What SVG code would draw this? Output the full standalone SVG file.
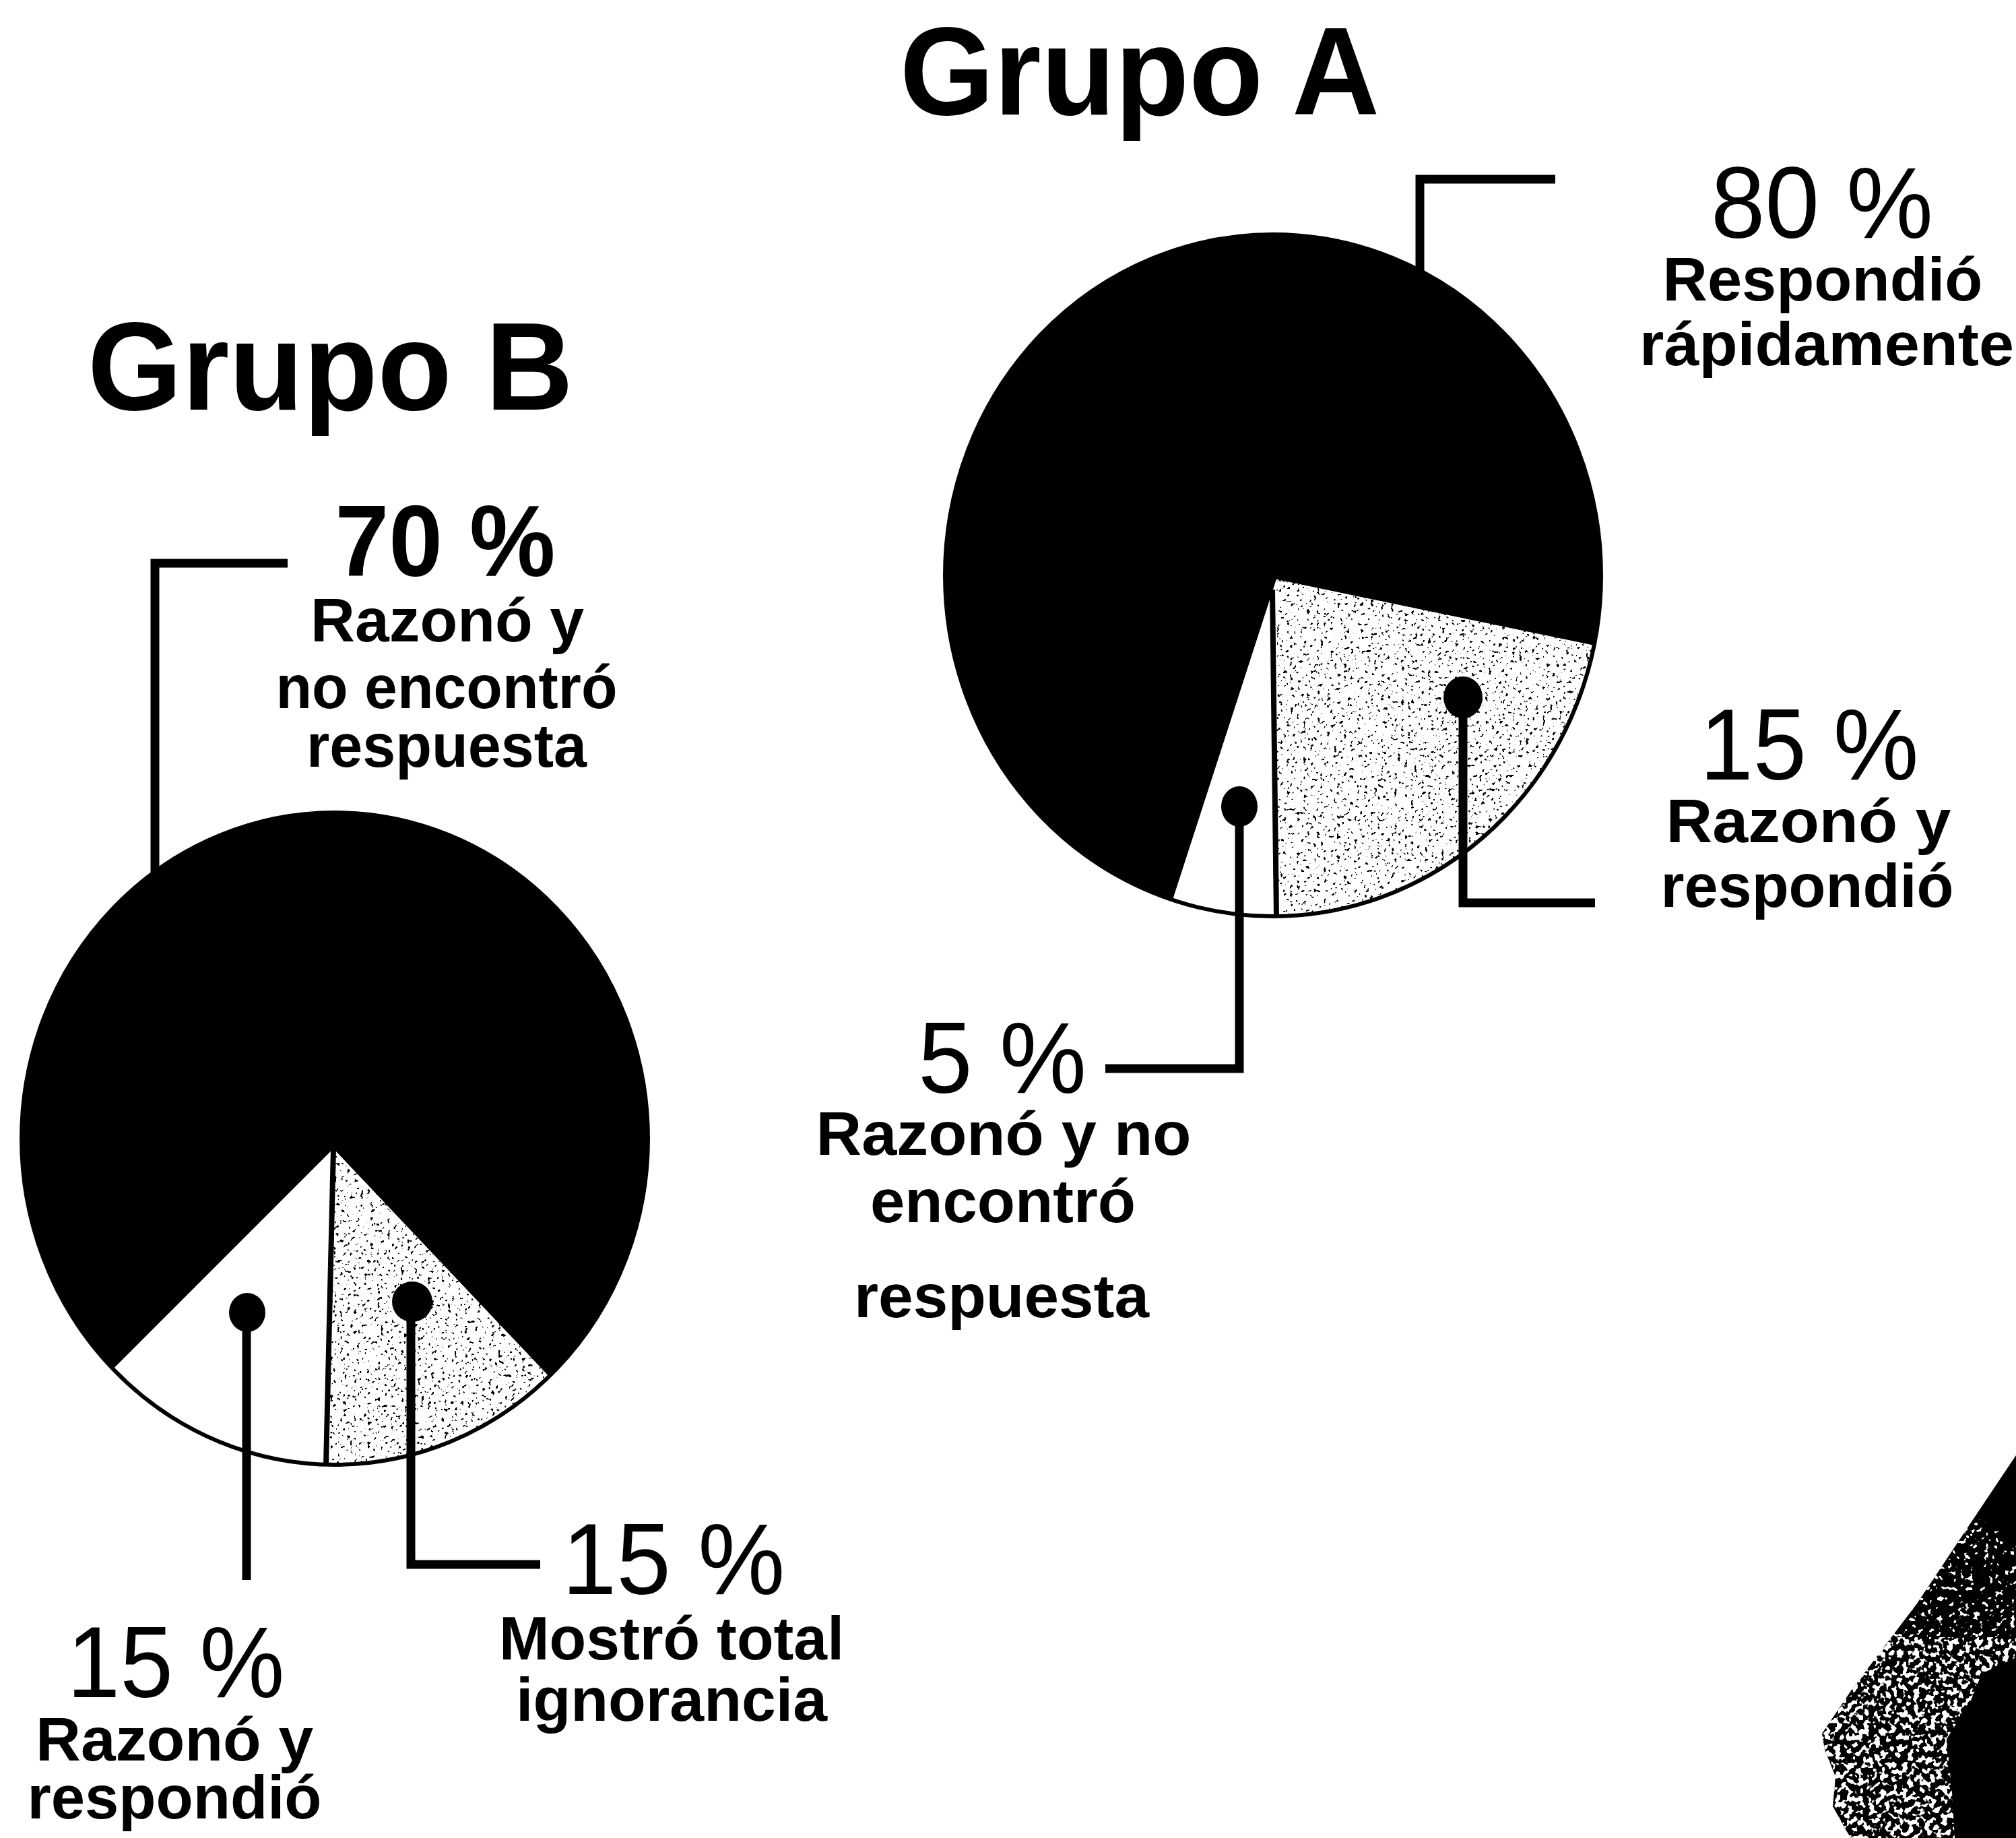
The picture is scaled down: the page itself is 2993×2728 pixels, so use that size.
<svg xmlns="http://www.w3.org/2000/svg" width="2993" height="2728" viewBox="0 0 2993 2728">
<defs>
<style>
.title{font-family:"Liberation Sans",Arial,sans-serif;font-weight:bold;font-size:185px;fill:#000}
.pct{font-family:"Liberation Sans",Arial,sans-serif;font-size:150px;fill:#000;text-anchor:middle}
.pctb{font-weight:bold}
.sub{font-family:"Liberation Sans",Arial,sans-serif;font-weight:bold;font-size:90px;fill:#000;text-anchor:middle}
.lead{fill:none;stroke:#000;stroke-width:13;stroke-linecap:butt;stroke-linejoin:miter}
.dot{fill:#000}
.outline{fill:none;stroke:#000;stroke-width:6}
.sep{stroke:#000;stroke-width:8}
.solid{fill:#000}
.blank{fill:#fff}
</style>
<filter id="stipLight" x="0" y="0" width="1" height="1" color-interpolation-filters="sRGB">
<feTurbulence type="fractalNoise" baseFrequency="0.2" numOctaves="2" seed="4" result="t"/>
<feColorMatrix in="t" type="matrix" values="0 0 0 0 0  0 0 0 0 0  0 0 0 0 0  -22 0 0 0 7.7" result="k"/>
<feComposite in="k" in2="SourceAlpha" operator="in"/>
</filter>
<filter id="whiteSparse" x="0" y="0" width="1" height="1" color-interpolation-filters="sRGB">
<feTurbulence type="fractalNoise" baseFrequency="0.13" numOctaves="2" seed="11" result="t"/>
<feColorMatrix in="t" type="matrix" values="0 0 0 0 1  0 0 0 0 1  0 0 0 0 1  -22 0 0 0 8.2" result="k"/>
<feComposite in="k" in2="SourceAlpha" operator="in"/>
</filter>
<filter id="whiteDense" x="0" y="0" width="1" height="1" color-interpolation-filters="sRGB">
<feTurbulence type="fractalNoise" baseFrequency="0.12" numOctaves="2" seed="9" result="t"/>
<feColorMatrix in="t" type="matrix" values="0 0 0 0 1  0 0 0 0 1  0 0 0 0 1  -20 0 0 0 9.6" result="k"/>
<feComposite in="k" in2="SourceAlpha" operator="in"/>
</filter>
</defs>
<rect width="2993" height="2728" fill="#fff"/>

<g id="title-a"><text class="title" x="1336" y="170" textLength="712" lengthAdjust="spacingAndGlyphs">Grupo A</text></g>
<g id="title-b"><text class="title" x="130" y="608" textLength="721" lengthAdjust="spacingAndGlyphs">Grupo B</text></g>

<g id="pie-a">
<path class="solid" d="M1895,860 L2366.6,958 A487,506 0 1 0 1741,1335.7 Z"/>
<path class="blank" d="M1895,860 L1741,1335.7 A487,506 0 0 0 1895,1360 Z"/>
<path class="blank" d="M1895,860 L1895,1360 A487,506 0 0 0 2366.6,958 Z"/>
<path fill="#000" filter="url(#stipLight)" d="M1895,860 L1895,1360 A487,506 0 0 0 2366.6,958 Z"/>
<ellipse class="outline" cx="1890" cy="854" rx="487" ry="506"/>
<line class="sep" x1="1889" y1="875" x2="1895" y2="1360"/>
</g>

<g id="pie-b">
<path class="solid" d="M495,1705 L815,2043 A465,484 0 1 0 168,2032 Z"/>
<path class="blank" d="M495,1705 L168,2032 A465,484 0 0 0 484,2173.8 Z"/>
<path class="blank" d="M495,1705 L484,2173.8 A465,484 0 0 0 815,2043 Z"/>
<path fill="#000" filter="url(#stipLight)" d="M495,1705 L484,2173.8 A465,484 0 0 0 815,2043 Z"/>
<ellipse class="outline" cx="497" cy="1690" rx="465" ry="484"/>
<line class="sep" x1="495" y1="1705" x2="484" y2="2174"/>
</g>

<g id="corner">
<polygon class="solid" points="2993,2160 2926,2260 2846,2380 2749,2508 2705,2573 2709,2597 2725,2637 2721,2681 2741,2717 2748,2728 2993,2728"/>
<polygon fill="#fff" filter="url(#whiteSparse)" points="2933,2250 2926,2260 2846,2380 2808,2430 2993,2430 2993,2290"/>
<polygon fill="#fff" filter="url(#whiteDense)" points="2808,2430 2749,2508 2705,2573 2709,2597 2725,2637 2721,2681 2741,2717 2748,2728 2902,2728 2898,2661 2890,2581 2926,2524 2942,2484 2993,2460 2993,2430"/>
</g>

<g id="connectors">
<path class="lead" d="M2309,266 H2108 V402"/>
<path class="lead" d="M1840,1197 V1586 H1641"/>
<path class="lead" d="M2172,1035 V1340 H2368"/>
<path class="lead" d="M427,836 H230 V1297"/>
<path class="lead" d="M366,1948 V2345"/>
<path class="lead" d="M610,1932 V2322 H802"/>
<ellipse class="dot" cx="1840" cy="1197" rx="27" ry="30"/>
<ellipse class="dot" cx="2172" cy="1035" rx="29" ry="31"/>
<ellipse class="dot" cx="367" cy="1948" rx="27" ry="29"/>
<ellipse class="dot" cx="612" cy="1932" rx="30" ry="30"/>
</g>

<g id="label-a80">
<text class="pct" x="2705" y="353" textLength="330" lengthAdjust="spacingAndGlyphs">80 %</text>
<text class="sub" x="2706" y="446" textLength="475" lengthAdjust="spacingAndGlyphs">Respondió</text>
<text class="sub" x="2712" y="542" textLength="556" lengthAdjust="spacingAndGlyphs">rápidamente</text>
</g>
<g id="label-a15">
<text class="pct" x="2686" y="1157" textLength="325" lengthAdjust="spacingAndGlyphs">15 %</text>
<text class="sub" x="2685" y="1250" textLength="423" lengthAdjust="spacingAndGlyphs">Razonó y</text>
<text class="sub" x="2683" y="1346" textLength="435" lengthAdjust="spacingAndGlyphs">respondió</text>
</g>
<g id="label-a5">
<text class="pct" x="1488" y="1622" textLength="250" lengthAdjust="spacingAndGlyphs">5 %</text>
<text class="sub" x="1490" y="1714" textLength="557" lengthAdjust="spacingAndGlyphs">Razonó y no</text>
<text class="sub" x="1489" y="1814" textLength="394" lengthAdjust="spacingAndGlyphs">encontró</text>
<text class="sub" x="1487" y="1955" textLength="438" lengthAdjust="spacingAndGlyphs">respuesta</text>
</g>
<g id="label-b70">
<text class="pct pctb" x="661" y="855" textLength="327" lengthAdjust="spacingAndGlyphs">70 %</text>
<text class="sub" x="664" y="952" textLength="406" lengthAdjust="spacingAndGlyphs">Razonó y</text>
<text class="sub" x="663" y="1051" textLength="507" lengthAdjust="spacingAndGlyphs">no encontró</text>
<text class="sub" x="663" y="1138" textLength="416" lengthAdjust="spacingAndGlyphs">respuesta</text>
</g>
<g id="label-b15a">
<text class="pct" x="261" y="2519" textLength="323" lengthAdjust="spacingAndGlyphs">15 %</text>
<text class="sub" x="259" y="2613" textLength="412" lengthAdjust="spacingAndGlyphs">Razonó y</text>
<text class="sub" x="259" y="2699" textLength="437" lengthAdjust="spacingAndGlyphs">respondió</text>
</g>
<g id="label-b15b">
<text class="pct" x="1000" y="2366" textLength="331" lengthAdjust="spacingAndGlyphs">15 %</text>
<text class="sub" x="997" y="2463" textLength="512" lengthAdjust="spacingAndGlyphs">Mostró total</text>
<text class="sub" x="997" y="2554" textLength="462" lengthAdjust="spacingAndGlyphs">ignorancia</text>
</g>
</svg>
